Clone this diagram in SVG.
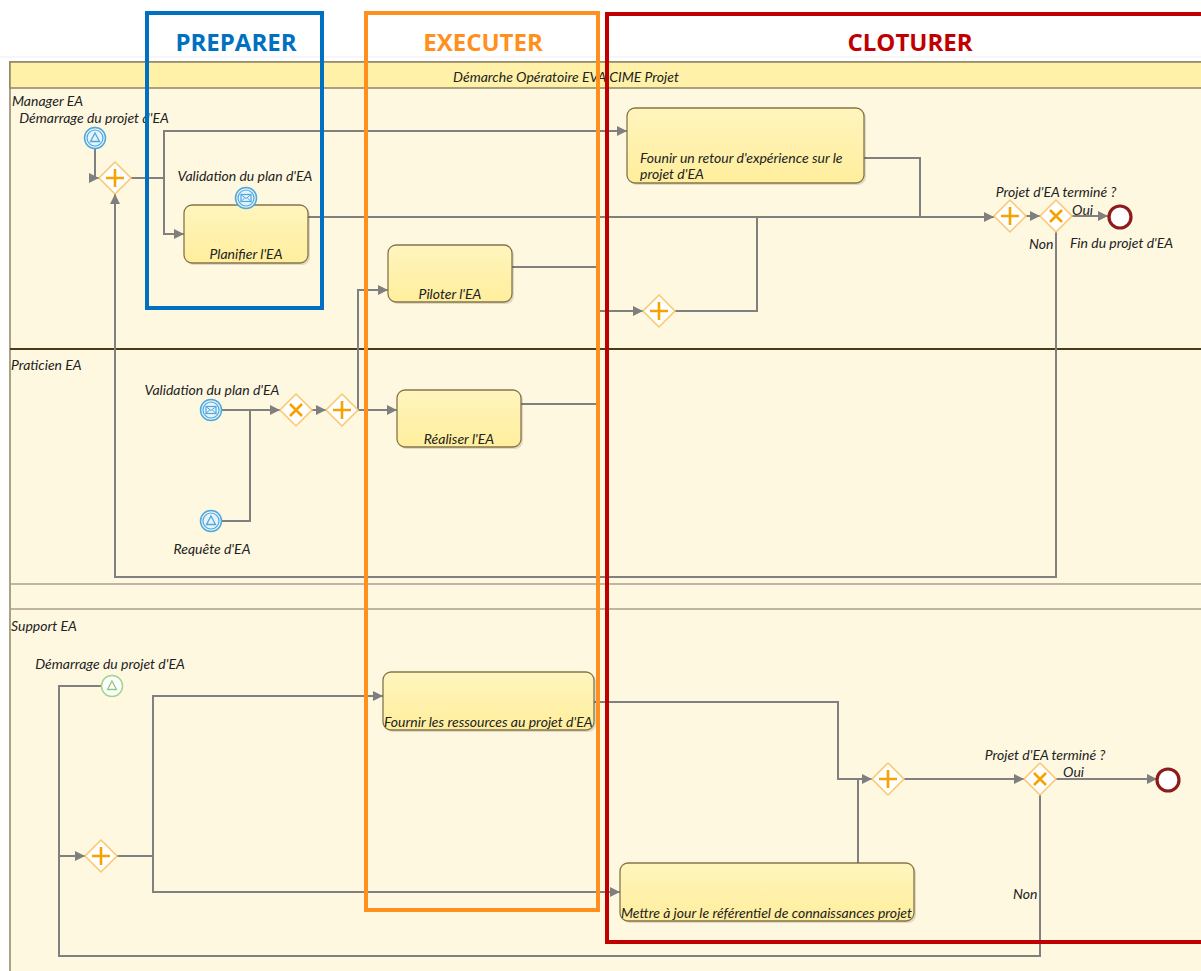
<svg xmlns="http://www.w3.org/2000/svg" width="1201" height="971" viewBox="0 0 1201 971">
<defs>
<linearGradient id="taskg" x1="0" y1="0" x2="0" y2="1">
<stop offset="0" stop-color="#FFF5BE"/>
<stop offset="1" stop-color="#FFEE9C"/>
</linearGradient>
<marker id="arr" viewBox="0 0 10 10" refX="10" refY="5" markerWidth="10" markerHeight="10" markerUnits="userSpaceOnUse" orient="auto">
<path d="M0,0 L10,5 L0,10 z" fill="#7F7F7F"/>
</marker>
<g id="gwp">
<path d="M0,-16 L16,0 L0,16 L-16,0 z" fill="#FFFFFF" stroke="#FBC76A" stroke-width="1.5"/>
<path d="M-9,0 H9 M0,-9 V9" stroke="#F5A300" stroke-width="2.6"/>
</g>
<g id="gwx">
<path d="M0,-16 L16,0 L0,16 L-16,0 z" fill="#FFFFFF" stroke="#FBC76A" stroke-width="1.5"/>
<path d="M-6,-6 L6,6 M6,-6 L-6,6" stroke="#F5A300" stroke-width="2.6"/>
</g>
<g id="evsig">
<circle r="10.5" fill="#E6F3FB" stroke="#4FA8DD" stroke-width="1.5"/>
<circle r="8" fill="none" stroke="#4FA8DD" stroke-width="1.2"/>
<path d="M0,-5 L4.5,3.5 L-4.5,3.5 z" fill="none" stroke="#4FA8DD" stroke-width="1.3"/>
</g>
<g id="evmsg">
<circle r="10.5" fill="#E6F3FB" stroke="#4FA8DD" stroke-width="1.5"/>
<circle r="8" fill="none" stroke="#4FA8DD" stroke-width="1.2"/>
<rect x="-5" y="-3.5" width="10" height="7" fill="none" stroke="#4FA8DD" stroke-width="1.2"/>
<path d="M-5,-3.5 L0,0.5 L5,-3.5 M-5,3.5 L-1.5,0 M5,3.5 L1.5,0" fill="none" stroke="#4FA8DD" stroke-width="1"/>
</g>
</defs>
<style>
.t{font-family:Lato,"Open Sans","Liberation Sans",sans-serif;font-style:italic;font-size:14px;fill:#222}
.task{fill:url(#taskg);stroke:#857649;stroke-width:1.3}
.shadow{fill:#000;opacity:0.12}
.c{fill:none;stroke:#808080;stroke-width:2}
.ca{fill:none;stroke:#808080;stroke-width:2;marker-end:url(#arr)}
.lane{stroke:#A8A08A;stroke-width:1.5;fill:none}
.ph{font-family:"Open Sans","Liberation Sans",sans-serif;font-weight:bold;font-size:24px;text-anchor:middle}
</style>
<rect width="1201" height="971" fill="#FFFFFF"/>
<line x1="0" y1="57" x2="1201" y2="57" stroke="#EDEDED" stroke-width="1"/>
<g id="pool">
<rect x="10" y="62" width="1195" height="915" fill="#FFF8E1" stroke="#8E8466" stroke-width="1.5"/>
<rect x="10" y="62" width="1195" height="26" fill="#FFF2A8" stroke="#8E8466" stroke-width="1.5"/>
<text class="t" x="566" y="82" text-anchor="middle">Démarche Opératoire EVA CIME Projet</text>
<line x1="10" y1="349" x2="1201" y2="349" stroke="#4A3A1E" stroke-width="2.2"/>
<line x1="10" y1="584" x2="1201" y2="584" class="lane"/>
<line x1="10" y1="609" x2="1201" y2="609" class="lane"/>
<text class="t" x="12" y="106">Manager EA</text>
<text class="t" x="11" y="370">Praticien EA</text>
<text class="t" x="11" y="631">Support EA</text>
</g>
<g id="connectors">
<path class="ca" d="M95,149 V178 H99"/>
<path class="ca" d="M131,178 H164 V131 H627"/>
<path class="ca" d="M164,178 V234 H184"/>
<path class="ca" d="M308,217 H994"/>
<path class="c" d="M864,158 H920 V217"/>
<path class="c" d="M512,267 H597 V404"/>
<path class="c" d="M521,404 H597"/>
<path class="ca" d="M597,311 H643"/>
<path class="c" d="M675,311 H757 V217"/>
<path class="ca" d="M1026,216 H1040"/>
<path class="ca" d="M1072,216 H1108"/>
<path class="ca" d="M1056,232 V577 H115 V194"/>
<path class="ca" d="M222,410 H280"/>
<path class="c" d="M222,521 H250 V410"/>
<path class="ca" d="M312,410 H326"/>
<path class="ca" d="M358,410 H397"/>
<path class="ca" d="M358,410 V290 H388"/>
<path class="c" d="M102,686 H59 V856"/>
<path class="ca" d="M1040,795 V956 H59 V856 H85"/>
<path class="ca" d="M117,856 H153 V696 H383"/>
<path class="ca" d="M153,856 V892 H620"/>
<path class="ca" d="M594,702 H838 V779 H872"/>
<path class="c" d="M858,863 V779"/>
<path class="ca" d="M904,779 H1024"/>
<path class="ca" d="M1056,779 H1157"/>
</g>
<g id="start-manager">
<use href="#evsig" x="95" y="138"/>
<text class="t" x="94" y="123" text-anchor="middle">Démarrage du projet d'EA</text>
</g>
<g id="gw-m1"><use href="#gwp" x="115" y="178"/></g>
<g id="task-planifier">
<rect class="shadow" x="186" y="207" width="124" height="58" rx="8"/>
<rect class="task" x="184" y="205" width="124" height="58" rx="8"/>
<text class="t" x="246" y="259" text-anchor="middle">Planifier l'EA</text>
</g>
<g id="ev-validation-boundary">
<use href="#evmsg" x="246" y="198"/>
<text class="t" x="245" y="181" text-anchor="middle">Validation du plan d'EA</text>
</g>
<g id="task-founir">
<rect class="shadow" x="629" y="110" width="237" height="75" rx="8"/>
<rect class="task" x="627" y="108" width="237" height="75" rx="8"/>
<text class="t" x="640" y="163">Founir un retour d'expérience sur le</text>
<text class="t" x="640" y="179">projet d'EA</text>
</g>
<g id="task-piloter">
<rect class="shadow" x="390" y="247" width="124" height="57" rx="8"/>
<rect class="task" x="388" y="245" width="124" height="57" rx="8"/>
<text class="t" x="450" y="299" text-anchor="middle">Piloter l'EA</text>
</g>
<g id="gw-m2"><use href="#gwp" x="659" y="311"/></g>
<g id="gw-m3"><use href="#gwp" x="1010" y="216"/></g>
<g id="gw-m4">
<use href="#gwx" x="1056" y="216"/>
<text class="t" x="1056" y="197" text-anchor="middle">Projet d'EA terminé ?</text>
<text class="t" x="1072" y="215">Oui</text>
<text class="t" x="1029" y="249">Non</text>
</g>
<g id="end-manager">
<circle cx="1120" cy="217" r="11" fill="#FFFFFF" stroke="#8E1B1B" stroke-width="3.2"/>
<text class="t" x="1070" y="248">Fin du projet d'EA</text>
</g>
<g id="start-praticien-msg">
<use href="#evmsg" x="211" y="410"/>
<text class="t" x="212" y="395" text-anchor="middle">Validation du plan d'EA</text>
</g>
<g id="start-praticien-req">
<use href="#evsig" x="211" y="521"/>
<text class="t" x="212" y="554" text-anchor="middle">Requête d'EA</text>
</g>
<g id="gw-p1"><use href="#gwx" x="296" y="410"/></g>
<g id="gw-p2"><use href="#gwp" x="342" y="410"/></g>
<g id="task-realiser">
<rect class="shadow" x="399" y="392" width="124" height="57" rx="8"/>
<rect class="task" x="397" y="390" width="124" height="57" rx="8"/>
<text class="t" x="459" y="444" text-anchor="middle">Réaliser l'EA</text>
</g>
<g id="start-support">
<circle cx="112" cy="686" r="10.5" fill="#FFFFFF" stroke="#9ED68A" stroke-width="1.5"/>
<path d="M112,681 L116.5,689.5 L107.5,689.5 z" fill="none" stroke="#8CCB76" stroke-width="1.3"/>
<text class="t" x="110" y="669" text-anchor="middle">Démarrage du projet d'EA</text>
</g>
<g id="gw-s1"><use href="#gwp" x="101" y="856"/></g>
<g id="task-fournir">
<rect class="shadow" x="385" y="674" width="211" height="58" rx="8"/>
<rect class="task" x="383" y="672" width="211" height="58" rx="8"/>
<text class="t" x="384" y="727">Fournir les ressources au projet d'EA</text>
</g>
<g id="task-mettre">
<rect class="shadow" x="622" y="865" width="294" height="58" rx="8"/>
<rect class="task" x="620" y="863" width="294" height="58" rx="8"/>
<text class="t" x="621" y="918">Mettre à jour le référentiel de connaissances projet</text>
</g>
<g id="gw-s2"><use href="#gwp" x="888" y="779"/></g>
<g id="gw-s3">
<use href="#gwx" x="1040" y="779"/>
<text class="t" x="1045" y="760" text-anchor="middle">Projet d'EA terminé ?</text>
<text class="t" x="1063" y="777">Oui</text>
<text class="t" x="1013" y="899">Non</text>
</g>
<g id="end-support">
<circle cx="1168" cy="780" r="11" fill="#FFFFFF" stroke="#8E1B1B" stroke-width="3.2"/>
</g>
<g id="phases">
<rect x="147" y="13" width="175" height="295" fill="none" stroke="#0070C0" stroke-width="4"/>
<text class="ph" x="236" y="51" fill="#0070C0">PREPARER</text>
<rect x="366" y="13" width="232" height="897" fill="none" stroke="#FF901E" stroke-width="4"/>
<text class="ph" x="483" y="51" fill="#FF901E">EXECUTER</text>
<rect x="607" y="14" width="600" height="928" fill="none" stroke="#C00000" stroke-width="4"/>
<text class="ph" x="910" y="51" fill="#C00000">CLOTURER</text>
</g>
</svg>
